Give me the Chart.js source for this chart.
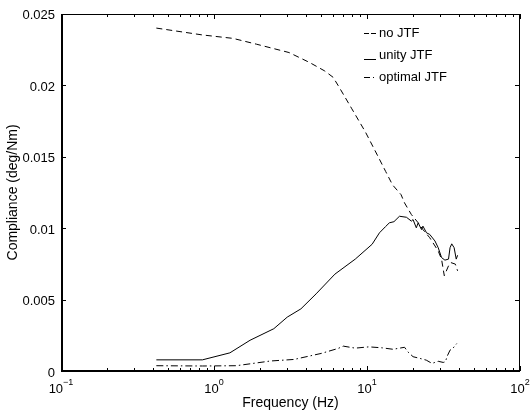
<!DOCTYPE html>
<html>
<head>
<meta charset="utf-8">
<script src="https://cdn.jsdelivr.net/npm/chart.js@4.4.1/dist/chart.umd.min.js"></script>
<style>
  html, body { margin: 0; padding: 0; background: #fff; }
</style>
</head>
<body>
<canvas id="compliance" width="530" height="415"></canvas>
<script>
// data
const freqNoJtf = [0.42, 0.84, 1.33, 1.9, 3.09, 4.2, 5.29, 6.0, 6.48, 7.96, 9.75, 11.67, 13.25, 14.68, 16.7, 17.6, 19.5, 21.5, 23.2, 25.7, 29.2, 30.7, 32.0, 34.1, 35.3, 37.8, 39.1];
const compNoJtf = [0.0240, 0.02352, 0.02328, 0.02287, 0.02229, 0.0216, 0.0210, 0.02056, 0.01998, 0.01835, 0.01674, 0.01512, 0.01396, 0.01303, 0.01234, 0.01176, 0.01095, 0.0104, 0.0099, 0.00933, 0.0084, 0.00783, 0.00667, 0.00736, 0.00759, 0.00748, 0.00701];

const freqUnity = [0.42, 0.84, 1.27, 1.72, 2.46, 3.01, 3.7, 4.65, 6.17, 8.38, 10.8, 12.06, 13.2, 14.0, 15.0, 16.3, 18.1, 19.5, 20.0, 21.0, 21.6, 22.7, 23.2, 24.5, 25.7, 27.8, 29.2, 30.7, 32.3, 34.1, 34.9, 35.8, 37.1, 38.3, 39.1];
const compUnity = [0.00078, 0.00078, 0.00127, 0.00215, 0.00296, 0.00377, 0.00435, 0.0054, 0.00678, 0.00783, 0.00887, 0.00967, 0.0101, 0.01037, 0.01045, 0.01083, 0.01076, 0.01049, 0.0106, 0.01002, 0.01037, 0.0099, 0.01014, 0.00967, 0.00956, 0.0091, 0.00863, 0.00794, 0.00776, 0.00783, 0.00863, 0.0089, 0.00863, 0.00783, 0.0081];

const freqOptimal = [0.42, 0.84, 1.4, 2.34, 3.34, 5.02, 6.48, 7.0, 8.38, 10.3, 12.6, 14.8, 17.6, 18.5, 20.0, 22.2, 24.4, 26.6, 29.2, 31.5, 32.6, 33.3, 34.9, 36.5, 38.6];
const compOptimal = [0.00037, 0.00035, 0.00037, 0.0007, 0.00081, 0.00123, 0.00158, 0.00174, 0.0016, 0.00169, 0.00162, 0.00152, 0.00166, 0.00134, 0.001, 0.00088, 0.00076, 0.00053, 0.00068, 0.0006, 0.00065, 0.001, 0.00146, 0.0016, 0.00192];

const seriesLabels = ['no JTF', 'unity JTF', 'optimal JTF'];

const xTickValues = [0.1, 1, 10, 100];
const xTickBase = '10';
const xTickExps = ['\u22121', '0', '1', '2'];
const yTickValues = [0, 0.005, 0.01, 0.015, 0.02, 0.025];
const yTickLabels = ['0', '0.005', '0.01', '0.015', '0.02', '0.025'];

const FONT = '"Liberation Sans", Arial, Helvetica, sans-serif';
Chart.defaults.font.family = FONT;
Chart.defaults.color = '#000';

const toPoints = (xs, ys) => xs.map((f, i) => ({x: f, y: ys[i]}));

// matlab style frame: box, inward ticks, superscript x labels, legend
const matlabFrame = {
  id: 'matlabFrame',
  afterDraw(chart) {
    const {ctx, chartArea: a, scales: {x, y}} = chart;
    const L = Math.round(a.left), R = Math.round(a.right);
    const T = Math.round(a.top), B = Math.round(a.bottom);
    ctx.save();
    ctx.fillStyle = '#000';
    // left + bottom axes are heavier, top + right thin
    ctx.fillRect(L, T, 2, B - T + 1);
    ctx.fillRect(L, B - 1, R - L, 2);
    ctx.fillRect(L, T, R - L, 1);
    ctx.fillRect(R - 1, T, 1, B - T);

    ctx.strokeStyle = '#000';
    ctx.lineWidth = 1;
    ctx.setLineDash([]);
    ctx.beginPath();
    // minor log ticks
    for (let d = -1; d < 2; d++) {
      for (let m = 2; m < 10; m++) {
        const px = Math.round(x.getPixelForValue(m * Math.pow(10, d))) + 0.5;
        ctx.moveTo(px, B); ctx.lineTo(px, B - 3);
        ctx.moveTo(px, T); ctx.lineTo(px, T + 3);
      }
    }
    xTickValues.forEach(v => {
      const px = Math.round(x.getPixelForValue(v)) + 0.5;
      ctx.moveTo(px, B); ctx.lineTo(px, B - 5);
      ctx.moveTo(px, T); ctx.lineTo(px, T + 5);
    });
    yTickValues.forEach(v => {
      const py = Math.round(y.getPixelForValue(v)) + 0.5;
      ctx.moveTo(L, py); ctx.lineTo(L + 5, py);
      ctx.moveTo(R, py); ctx.lineTo(R - 5, py);
    });
    ctx.stroke();

    // x tick labels 10^n
    ctx.textBaseline = 'alphabetic';
    ctx.textAlign = 'left';
    xTickValues.forEach((v, i) => {
      const px = x.getPixelForValue(v);
      ctx.font = '13px ' + FONT;
      const wb = ctx.measureText(xTickBase).width;
      ctx.font = '9px ' + FONT;
      const we = ctx.measureText(xTickExps[i]).width;
      const x0 = px - (wb + we) / 2;
      ctx.font = '13px ' + FONT;
      ctx.fillText(xTickBase, x0, 393);
      ctx.font = '9px ' + FONT;
      ctx.fillText(xTickExps[i], x0 + wb, 385);
    });

    // legend, short samples like "--", "__", "-."
    const rowY = [33, 55, 77];
    const sampleShift = [0, 4, 0];
    const sampleDash = [[5, 2], [], [6, 3, 1, 10]];
    ctx.font = '13px ' + FONT;
    ctx.textBaseline = 'middle';
    chart.data.datasets.forEach((ds, i) => {
      const ly = Math.round(rowY[i] + sampleShift[i]) + 0.5;
      ctx.setLineDash(sampleDash[i]);
      ctx.beginPath();
      ctx.moveTo(364, ly);
      ctx.lineTo(376, ly);
      ctx.stroke();
      ctx.fillText(ds.label, 379, rowY[i]);
    });
    ctx.restore();
  }
};

new Chart(document.getElementById('compliance'), {
  type: 'line',
  data: {
    datasets: [{
      label: seriesLabels[0],
      data: toPoints(freqNoJtf, compNoJtf),
      borderDash: [6, 4]
    }, {
      label: seriesLabels[1],
      data: toPoints(freqUnity, compUnity),
      borderDash: []
    }, {
      label: seriesLabels[2],
      data: toPoints(freqOptimal, compOptimal),
      borderDash: [7, 3, 1.5, 3]
    }].map(ds => Object.assign(ds, {
      borderColor: '#000',
      borderWidth: 1,
      pointRadius: 0,
      tension: 0,
      fill: false
    }))
  },
  options: {
    responsive: false,
    animation: false,
    layout: { padding: { top: 11, right: 10, left: 0, bottom: 0 } },
    plugins: {
      legend: { display: false },
      tooltip: { enabled: false }
    },
    scales: {
      x: {
        type: 'logarithmic',
        min: 0.1,
        max: 100,
        afterBuildTicks: s => { s.ticks = xTickValues.map(v => ({value: v})); },
        afterFit: s => { s.height = 44; },
        grid: { display: false, drawTicks: false },
        border: { display: false },
        ticks: { display: false },
        title: {
          display: true,
          text: 'Frequency (Hz)',
          font: { size: 14 },
          padding: { top: 0, bottom: 3 }
        }
      },
      y: {
        min: 0,
        max: 0.025,
        afterBuildTicks: s => { s.ticks = yTickValues.map(v => ({value: v})); },
        afterFit: s => { s.width = 61; },
        grid: { display: false, drawTicks: false },
        border: { display: false },
        ticks: {
          font: { size: 13 },
          padding: 6,
          labelOffset: 2,
          callback: (v, i) => yTickLabels[i]
        },
        title: {
          display: true,
          text: 'Compliance (deg/Nm)',
          font: { size: 14 },
          padding: { top: 5, bottom: 0 }
        }
      }
    }
  },
  plugins: [matlabFrame]
});
</script>
</body>
</html>
